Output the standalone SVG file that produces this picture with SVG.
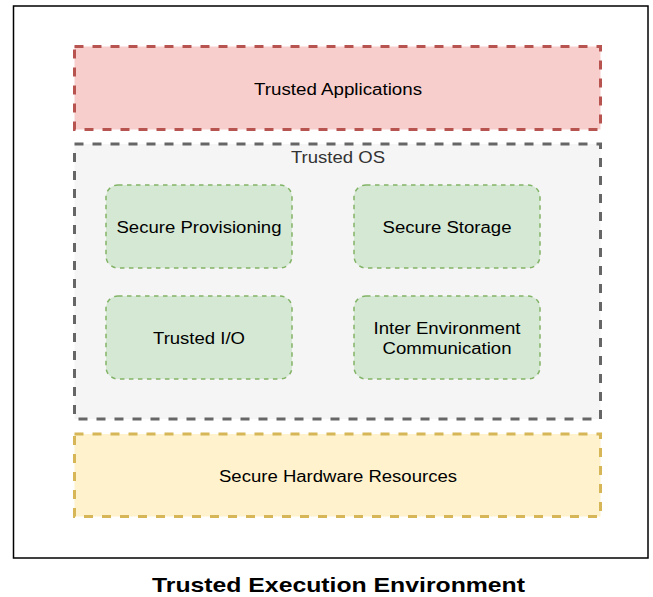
<svg xmlns="http://www.w3.org/2000/svg" width="653" height="597" viewBox="0 0 653 597">
  <style>
    .lbl { font-family: "Liberation Sans", Arial, sans-serif; font-size: 16px; fill: #000; text-anchor: middle; dominant-baseline: central; }
    .layer { stroke-width: 3; stroke-dasharray: 9 9; }
    .svc { fill: #d5e8d4; stroke: #82b366; stroke-width: 1.5; stroke-dasharray: 4.5 4.5; }
    .title { font-family: "Liberation Sans", Arial, sans-serif; font-size: 21px; font-weight: bold; fill: #000; text-anchor: middle; }
  </style>
  <rect width="653" height="597" fill="#fff"/>
  <!-- outer frame -->
  <rect id="tee-frame" x="13.5" y="6" width="634.5" height="552" fill="#fff" stroke="#000" stroke-width="1.5"/>

  <g id="trusted-applications">
    <rect class="layer" x="74.5" y="46.5" width="526" height="83" fill="#f8cecc" stroke="#b85450"/>
    <text class="lbl" x="338" y="89" textLength="168" lengthAdjust="spacingAndGlyphs">Trusted Applications</text>
  </g>

  <g id="trusted-os">
    <rect class="layer" x="74.5" y="144" width="526" height="275" fill="#f5f5f5" stroke="#666666"/>
    <text class="lbl" x="338" y="157" style="fill:#333" textLength="94" lengthAdjust="spacingAndGlyphs">Trusted OS</text>
  </g>

  <g id="secure-provisioning">
    <rect class="svc" x="106" y="185" width="186" height="83" rx="12"/>
    <text class="lbl" x="199" y="227" textLength="165" lengthAdjust="spacingAndGlyphs">Secure Provisioning</text>
  </g>
  <g id="secure-storage">
    <rect class="svc" x="354" y="185" width="186" height="83" rx="12"/>
    <text class="lbl" x="447" y="227" textLength="129" lengthAdjust="spacingAndGlyphs">Secure Storage</text>
  </g>
  <g id="trusted-io">
    <rect class="svc" x="106" y="296" width="186" height="83" rx="12"/>
    <text class="lbl" x="199" y="338" textLength="92" lengthAdjust="spacingAndGlyphs">Trusted I/O</text>
  </g>
  <g id="inter-env-comm">
    <rect class="svc" x="354" y="296" width="186" height="83" rx="12"/>
    <text class="lbl" x="447" y="328" textLength="147" lengthAdjust="spacingAndGlyphs">Inter Environment</text>
    <text class="lbl" x="447" y="348" textLength="129" lengthAdjust="spacingAndGlyphs">Communication</text>
  </g>

  <g id="secure-hardware">
    <rect class="layer" x="74.5" y="434" width="526" height="82.5" fill="#fff2cc" stroke="#d6b656"/>
    <text class="lbl" x="338" y="476" textLength="238" lengthAdjust="spacingAndGlyphs">Secure Hardware Resources</text>
  </g>

  <g id="connectors"/>

  <text class="title" x="338.5" y="592" textLength="373" lengthAdjust="spacingAndGlyphs">Trusted Execution Environment</text>
</svg>
